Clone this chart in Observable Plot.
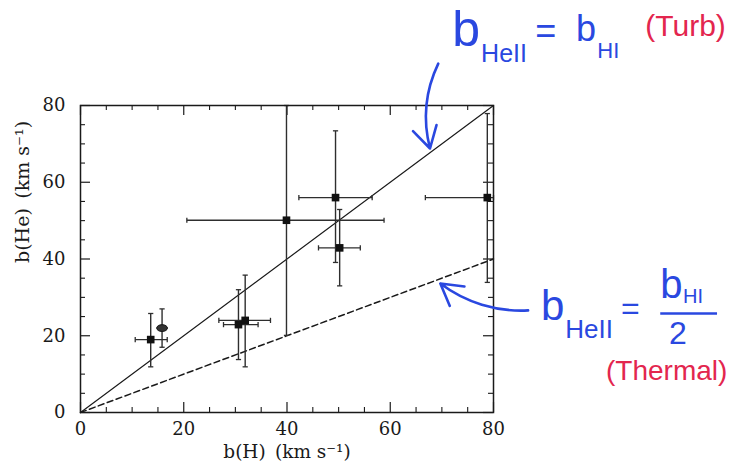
<!DOCTYPE html>
<html>
<head>
<meta charset="utf-8">
<script src="https://cdn.jsdelivr.net/npm/d3@7"></script>
<script src="https://cdn.jsdelivr.net/npm/@observablehq/plot@0.6"></script>
<style>
  body { margin: 0; background: #fff; }
</style>
</head>
<body>
<div id="chart"></div>
<script>
// Doppler parameters of matched H I / He II absorbers, with error ranges (km/s)
const bH    = [13.6, 15.8, 30.6, 31.9, 39.9, 49.4, 50.2, 78.8];
const bHe   = [19.0, 22.0, 22.9, 24.0, 50.1, 56.0, 42.9, 56.0];
const bHLo  = [10.6, 15.8, 27.7, 26.8, 20.6, 42.3, 46.1, 66.8];
const bHHi  = [16.8, 15.8, 34.4, 36.8, 58.8, 56.5, 54.2, 80.0];
const bHeLo = [11.9, 17.0, 13.8, 11.9, 20.1, 39.1, 33.0, 33.9];
const bHeHi = [25.8, 27.0, 32.0, 35.8, 80.0, 73.4, 52.9, 77.9];
const markerShape = ["square", "ellipse", "square", "square", "square", "square", "square", "square"];

// axis ticks
const majorTicks = [0, 20, 40, 60, 80];
const majorTickLabels = ["0", "20", "40", "60", "80"];
const minorTicks = [5, 10, 15, 25, 30, 35, 45, 50, 55, 65, 70, 75];
const xLabel = "b(H)\u2002(km s\u207B\u00B9)";
const yLabel = "b(He)\u2002(km s\u207B\u00B9)";

// model relations: pure turbulence (b_He = b_H) and pure thermal (b_He = b_H / 2)
const modelH = [0, 80];
const turbulent = modelH.map(h => ({h, he: h}));
const thermal = modelH.map(h => ({h, he: h / 2}));

// handwritten notes, placed in data units
const blue = "#2a48e0";
const red = "#e3264e";
const notes = [
  {text: "b",       x: 72.0,  y: 99.8, size: 50, color: blue},
  {text: "HeII",    x: 77.6,  y: 93.4, size: 25, color: blue},
  {text: "=",       x: 88.1,  y: 99.3, size: 36, color: blue},
  {text: "b",       x: 96.0,  y: 99.9, size: 36, color: blue},
  {text: "HI",      x: 100.1, y: 94.2, size: 22, color: blue},
  {text: "(Turb)",  x: 109.4, y: 100.6, size: 30, color: red},
  {text: "b",       x: 89.2,  y: 27.5, size: 42, color: blue},
  {text: "HeII",    x: 93.9,  y: 21.7, size: 26, color: blue},
  {text: "=",       x: 104.7, y: 27.1, size: 32, color: blue},
  {text: "b",       x: 112.3, y: 33.3, size: 40, color: blue},
  {text: "HI",      x: 116.7, y: 30.3, size: 20, color: blue},
  {text: "2",       x: 114.0, y: 20.6, size: 32, color: blue},
  {text: "(Thermal)", x: 101.8, y: 10.9, size: 28, color: red}
];
const fractionBar = [{x1: 112.3, x2: 123.3, y: 25.8}];
const turbArrow = [{x1: 69.3, y1: 90.9, x2: 67.7, y2: 68.8}];
const thermArrow = [{x1: 86.7, y1: 26.6, x2: 69.7, y2: 33.6}];

const rows = bH.map((x, i) => ({
  x, y: bHe[i], xLo: bHLo[i], xHi: bHHi[i], yLo: bHeLo[i], yHi: bHeHi[i], shape: markerShape[i]
}));
const hBars = rows.filter(d => d.xHi > d.xLo);

// symbols for error-bar caps and the ellipse marker
const vCap = {draw(ctx, size) { const r = Math.sqrt(size / Math.PI); ctx.moveTo(0, -r); ctx.lineTo(0, r); }};
const hCap = {draw(ctx, size) { const r = Math.sqrt(size / Math.PI); ctx.moveTo(-r, 0); ctx.lineTo(r, 0); }};
const ellipse = {draw(ctx, size) {
  const r = Math.sqrt(size / Math.PI), a = r * 1.35, b = r * 0.85, k = 0.5523;
  ctx.moveTo(a, 0);
  ctx.bezierCurveTo(a, b * k, a * k, b, 0, b);
  ctx.bezierCurveTo(-a * k, b, -a, b * k, -a, 0);
  ctx.bezierCurveTo(-a, -b * k, -a * k, -b, 0, -b);
  ctx.bezierCurveTo(a * k, -b, a, -b * k, a, 0);
  ctx.closePath();
}};

const W = 738, H = 472;
const M = {top: 105, right: 245, bottom: 60, left: 80};
const FW = W - M.left - M.right, FH = H - M.top - M.bottom;
const major = 10, minor = 5;
const ink = "#1a1a1a";
const barInk = "#2e2e2e";

const chart = Plot.plot({
  width: W,
  height: H,
  marginTop: M.top,
  marginRight: M.right,
  marginBottom: M.bottom,
  marginLeft: M.left,
  x: {domain: [0, 80]},
  y: {domain: [0, 80]},
  style: {fontFamily: "'DejaVu Serif', serif", background: "#fff", color: ink},
  marks: [
    // inward ticks on all four sides
    Plot.tickX(majorTicks, {x: d => d, insetTop: FH - major, stroke: ink, strokeWidth: 1.2}),
    Plot.tickX(majorTicks, {x: d => d, insetBottom: FH - major, stroke: ink, strokeWidth: 1.2}),
    Plot.tickX(minorTicks, {x: d => d, insetTop: FH - minor, stroke: ink, strokeWidth: 1.1}),
    Plot.tickX(minorTicks, {x: d => d, insetBottom: FH - minor, stroke: ink, strokeWidth: 1.1}),
    Plot.tickY(majorTicks, {y: d => d, insetRight: FW - major, stroke: ink, strokeWidth: 1.2}),
    Plot.tickY(majorTicks, {y: d => d, insetLeft: FW - major, stroke: ink, strokeWidth: 1.2}),
    Plot.tickY(minorTicks, {y: d => d, insetRight: FW - minor, stroke: ink, strokeWidth: 1.1}),
    Plot.tickY(minorTicks, {y: d => d, insetLeft: FW - minor, stroke: ink, strokeWidth: 1.1}),
    Plot.axisX({ticks: majorTicks, tickSize: 0, tickPadding: 10, fontSize: 18, label: null,
      tickFormat: d => majorTickLabels[majorTicks.indexOf(d)]}),
    Plot.axisY({ticks: majorTicks, tickSize: 0, tickPadding: 15, fontSize: 18, label: null,
      tickFormat: d => majorTickLabels[majorTicks.indexOf(d)]}),
    Plot.text([xLabel], {frameAnchor: "bottom", lineAnchor: "middle", dy: 40, fontSize: 18.5, fill: ink}),
    Plot.text([yLabel], {frameAnchor: "left", lineAnchor: "middle", rotate: -90, dx: -58, dy: 4, fontSize: 19, fill: ink}),

    // model lines
    Plot.line(turbulent, {x: "h", y: "he", stroke: ink, strokeWidth: 1.2}),
    Plot.line(thermal, {x: "h", y: "he", stroke: ink, strokeWidth: 1.5, strokeDasharray: "6,3.5"}),

    // error bars with caps
    Plot.link(hBars, {x1: "xLo", x2: "xHi", y1: "y", y2: "y", stroke: barInk, strokeWidth: 1.4}),
    Plot.link(rows, {x1: "x", x2: "x", y1: "yLo", y2: "yHi", stroke: barInk, strokeWidth: 1.4}),
    Plot.dot(hBars, {x: "xLo", y: "y", symbol: vCap, r: 2.6, fill: "none", stroke: barInk, strokeWidth: 1.3}),
    Plot.dot(hBars, {x: "xHi", y: "y", symbol: vCap, r: 2.6, fill: "none", stroke: barInk, strokeWidth: 1.3}),
    Plot.dot(rows, {x: "x", y: "yLo", symbol: hCap, r: 2.6, fill: "none", stroke: barInk, strokeWidth: 1.3}),
    Plot.dot(rows, {x: "x", y: "yHi", symbol: hCap, r: 2.6, fill: "none", stroke: barInk, strokeWidth: 1.3}),

    // markers
    Plot.dot(rows.filter(d => d.shape === "square"), {x: "x", y: "y", symbol: "square", r: 4.3, fill: "#111", stroke: "none"}),
    Plot.dot(rows.filter(d => d.shape === "ellipse"), {x: "x", y: "y", symbol: ellipse, r: 4, fill: "#333", stroke: "#111", strokeWidth: 1}),

    Plot.frame({stroke: ink, strokeWidth: 1.5}),

    // annotations
    Plot.arrow(turbArrow, {x1: "x1", y1: "y1", x2: "x2", y2: "y2", bend: -20, stroke: blue, strokeWidth: 2.6, headLength: 14}),
    Plot.arrow(thermArrow, {x1: "x1", y1: "y1", x2: "x2", y2: "y2", bend: 20, stroke: blue, strokeWidth: 2.6, headLength: 14}),
    Plot.link(fractionBar, {x1: "x1", x2: "x2", y1: "y", y2: "y", stroke: blue, strokeWidth: 2.6}),
    Plot.text(notes, {x: "x", y: "y", text: "text", fontSize: d => d.size, fill: d => d.color,
      textAnchor: "start", lineAnchor: "middle", fontFamily: "'Liberation Sans', sans-serif"})
  ]
});

document.getElementById("chart").append(chart);
</script>
</body>
</html>
